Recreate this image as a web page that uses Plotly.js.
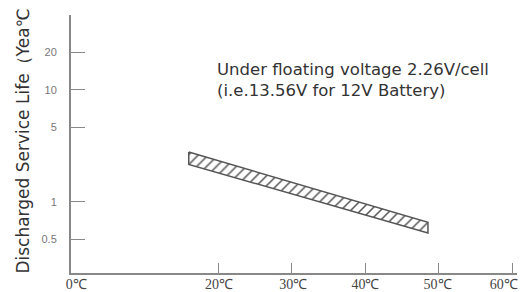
<!DOCTYPE html>
<html>
<head>
<meta charset="utf-8">
<script src="https://cdn.plot.ly/plotly-3.0.1.min.js"></script>
<style>html,body{margin:0;padding:0;background:#fff;}#chart{width:526px;height:292px;}</style>
</head>
<body>
<div id="chart"></div>
<script>
// X axis: temperature ticks
const tempTicks = [0, 20, 30, 40, 50, 60];
const tempLabels = ['0℃', '20℃', '30℃', '40℃', '50℃', '60℃'];
// Y axis: the chart uses an evenly stepped (non-log) scale; positions -> labels
const lifeTickPos = [1, 2, 4, 5, 6];
const lifeTickLabels = ['0.5', '1', '5', '10', '20'];
// Service life band (temperature, upper/lower edge in axis position units)
const bandTemp = [16, 48.5];
const bandUpper = [3.33, 1.45];
const bandLower = [3.0, 1.16];

const polyX = [bandTemp[0], bandTemp[1], bandTemp[1], bandTemp[0], bandTemp[0]];
const polyY = [bandUpper[0], bandUpper[1], bandLower[1], bandLower[0], bandUpper[0]];

// label placement nudges (layout only): labels sit slightly off their ticks in the reference
const labelNudge = [0.7, 0.1, 0.2, 0, -0.2, -1.2];
const labelPos = tempTicks.map((v, i) => v + labelNudge[i]);

const trace = {
  x: polyX, y: polyY, type: 'scatter', mode: 'lines',
  fill: 'toself', fillcolor: 'white',
  fillpattern: {shape: '/', size: 7, solidity: 0.22, fgcolor: '#555', bgcolor: 'white'},
  line: {color: '#555', width: 1.5},
  hoverinfo: 'skip', showlegend: false
};

const xRange = [0, 60.6];
const layout = {
  width: 526, height: 292,
  margin: {l: 71, r: 9, t: 15, b: 19},
  paper_bgcolor: '#fff', plot_bgcolor: '#fff',
  showlegend: false,
  xaxis: {
    range: xRange, tickmode: 'array', tickvals: tempTicks, showticklabels: false,
    ticks: 'inside', ticklen: 10, tickcolor: '#888', tickwidth: 1,
    showline: true, linecolor: '#888', linewidth: 2, showgrid: false, zeroline: false
  },
  xaxis2: {
    overlaying: 'x', anchor: 'y', side: 'bottom',
    range: xRange, tickmode: 'array', tickvals: labelPos, ticktext: tempLabels,
    ticks: '', showline: false, showgrid: false, zeroline: false,
    tickfont: {family: 'Liberation Serif', size: 14, color: '#444'}, ticklabelstandoff: 1
  },
  yaxis: {
    range: [0.09, 7.0], tickmode: 'array', tickvals: lifeTickPos, ticktext: lifeTickLabels,
    ticks: 'inside', ticklen: 14, tickcolor: '#888', tickwidth: 1,
    showline: true, linecolor: '#888', linewidth: 2, showgrid: false, zeroline: false,
    tickfont: {family: 'Liberation Sans', size: 11, color: '#777'}, ticklabelstandoff: 10
  },
  annotations: [
    {text: 'Discharged Service Life（Yea℃', xref: 'paper', yref: 'paper', x: 0, y: -0.012,
     xanchor: 'center', yanchor: 'bottom', xshift: -48, textangle: -90, showarrow: false,
     font: {family: 'DejaVu Sans', size: 17, color: '#333'}},
    {text: 'Under floating voltage 2.26V/cell<br>(i.e.13.56V for 12V Battery)', xref: 'x', yref: 'paper',
     x: 19.5, y: 0.748, xanchor: 'left', yanchor: 'middle', align: 'left', showarrow: false,
     font: {family: 'DejaVu Sans', size: 16.5, color: '#333'}}
  ]
};

const labelTrace = {x: [xRange[0]], y: [null], xaxis: 'x2', yaxis: 'y', type: 'scatter', mode: 'lines',
  hoverinfo: 'skip', showlegend: false};

Plotly.newPlot('chart', [trace, labelTrace], layout, {displayModeBar: false, staticPlot: true});
</script>
</body>
</html>
